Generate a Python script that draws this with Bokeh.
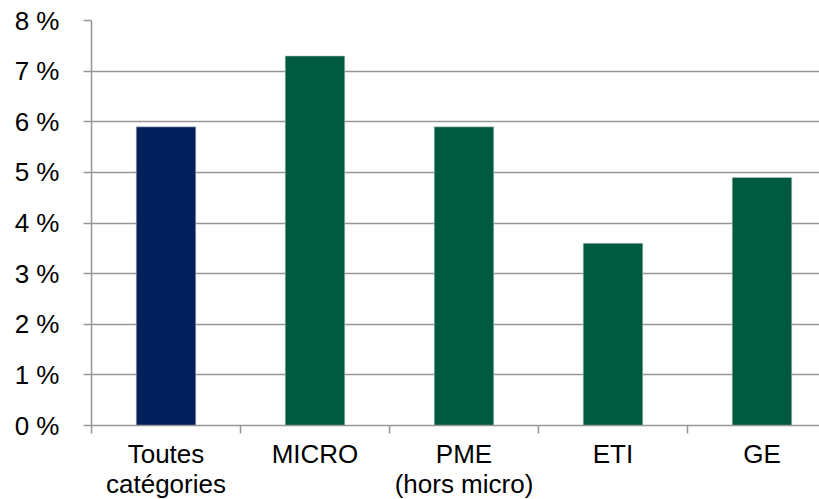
from bokeh.plotting import figure
from bokeh.models import ColumnDataSource, FixedTicker, Range1d
from bokeh.embed import file_html
from bokeh.resources import INLINE

categories = ["Toutes\ncatégories", "MICRO", "PME\n(hors micro)", "ETI", "GE"]
values = [5.9, 7.3, 5.9, 3.6, 4.9]
colors = ["#001F5B", "#005A40", "#005A40", "#005A40", "#005A40"]
y_ticks = [0, 1, 2, 3, 4, 5, 6, 7, 8]
y_labels = [f"{t} %" for t in y_ticks]

xs = [i + 0.5 for i in range(len(categories))]
src = ColumnDataSource(dict(x=xs, top=values, color=colors))

FONT = "Liberation Sans"
GRID = "#969696"

p = figure(frame_width=728, frame_height=405, output_backend="svg", toolbar_location=None,
           x_range=Range1d(0, 4.886), y_range=Range1d(0, 8),
           min_border_left=91, min_border_right=0, min_border_top=20, min_border_bottom=0)
p.outline_line_color = None
p.background_fill_color = "white"
p.border_fill_color = "white"

p.vbar(x="x", top="top", width=0.4, source=src, fill_color="color",
       line_color="#c8cccc", line_width=0.6)

# Y axis
p.yaxis.ticker = FixedTicker(ticks=y_ticks)
p.yaxis.major_label_overrides = {t: l for t, l in zip(y_ticks, y_labels)}
p.yaxis.major_tick_out = 8
p.yaxis.major_tick_in = 0
p.yaxis.minor_tick_line_color = None
p.yaxis.major_tick_line_color = GRID
p.yaxis.major_tick_line_width = 1.5
p.yaxis.axis_line_color = GRID
p.yaxis.axis_line_width = 1.5
p.yaxis.major_label_standoff = 24
p.yaxis.major_label_text_font = FONT
p.yaxis.major_label_text_font_size = "26px"
p.yaxis.major_label_text_color = "black"

# X axis: labels at centres, tick marks at boundaries (minor ticks)
p.xaxis.ticker = FixedTicker(ticks=xs, minor_ticks=[0, 1, 2, 3, 4])
p.xaxis.major_label_overrides = {x: c for x, c in zip(xs, categories)}
p.xaxis.major_tick_out = 0
p.xaxis.major_tick_in = 0
p.xaxis.minor_tick_out = 8
p.xaxis.minor_tick_in = 0
p.xaxis.minor_tick_line_color = GRID
p.xaxis.minor_tick_line_width = 1.5
p.xaxis.axis_line_color = GRID
p.xaxis.axis_line_width = 1.5
p.xaxis.major_label_standoff = 5
p.xaxis.major_label_text_font = FONT
p.xaxis.major_label_text_font_size = "26px"
p.xaxis.major_label_text_color = "black"
p.xaxis.major_label_text_line_height = 1.0

p.xgrid.grid_line_color = None
p.ygrid.ticker = FixedTicker(ticks=y_ticks)
p.ygrid.grid_line_color = GRID
p.ygrid.grid_line_width = 1.5

open("out.html", "w").write(file_html(p, INLINE))
